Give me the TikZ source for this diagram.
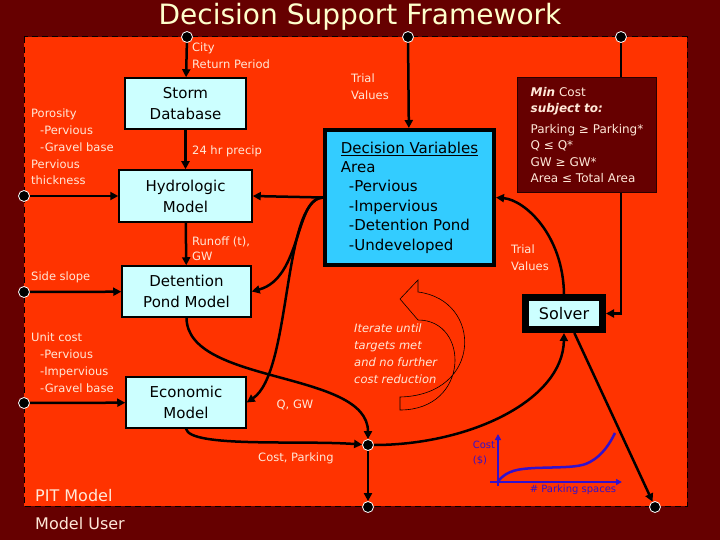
\documentclass[tikz,border=0pt]{standalone}
\usepackage{fontspec}
\setmainfont{DejaVu Sans}
\usetikzlibrary{arrows.meta}
\definecolor{slide}{HTML}{660000}
\definecolor{panel}{HTML}{FF3300}
\definecolor{modelfill}{HTML}{CCFFFF}
\definecolor{varfill}{HTML}{33CCFF}
\definecolor{titletext}{HTML}{FFFFCC}
\definecolor{notetext}{HTML}{FFE8D8}
\definecolor{plotblue}{HTML}{3311CC}

\begin{document}
\begin{tikzpicture}[x=1pt,y=-1pt,
  modelbox/.style={draw=black, line width=1.5pt, fill=modelfill, align=center, font=\fontsize{15}{21}\selectfont},
  port/.style={circle, fill=black, draw=white, line width=0.8pt, inner sep=0pt, minimum size=11pt},
  flow/.style={line width=2.5pt, -{Triangle[length=8pt,width=8pt]}},
  note/.style={text=notetext, align=left, inner sep=0pt, font=\fontsize{11.5}{16.7}\selectfont},
  plotline/.style={plotblue, line width=2.5pt}]
\fill[slide] (0,0) rectangle (720,540);
\draw[line width=1pt, dash pattern=on 6pt off 4pt, fill=panel] (24,37) rectangle (687,506);
\node[text=titletext, font=\fontsize{28}{32}\selectfont] (title) at (360,17) {Decision Support Framework};
\node[port] (cityin) at (187,37) {};
\node[port] (trialin) at (408,37) {};
\node[port] (targetin) at (621,37) {};
\node[port] (soilin) at (24,196) {};
\node[port] (slopein) at (24,292) {};
\node[port] (costin) at (24,403) {};
\node[port] (junction) at (368,445) {};
\node[port] (userout) at (368,507) {};
\node[port] (solverout) at (655,507) {};
\node[modelbox, minimum width=121, minimum height=51] (storm) at (185.5,103.5) {Storm\\Database};
\node[modelbox, minimum width=133, minimum height=52] (hydro) at (185.5,196) {Hydrologic\\Model};
\node[modelbox, minimum width=129, minimum height=51] (detention) at (186.5,291.5) {Detention\\Pond Model};
\node[modelbox, minimum width=120, minimum height=51] (economic) at (186,402.5) {Economic\\Model};
\node[draw=black, line width=4pt, fill=varfill, align=left, anchor=north west, minimum width=169, minimum height=135, font=\fontsize{15}{19.4}\selectfont] (dv) at (323,128) {\underline{Decision Variables}\\Area\\\hspace*{8pt}-Pervious\\\hspace*{8pt}-Impervious\\\hspace*{8pt}-Detention Pond\\\hspace*{8pt}-Undeveloped};
\node[draw=black, line width=7pt, fill=modelfill, minimum width=77, minimum height=32, font=\fontsize{16}{20}\selectfont] (solver) at (564,313.5) {Solver};
\draw[flow] (targetin) |- (solver.east);
\node[draw=black!60!slide, line width=1pt, fill=slide, text=notetext, align=left, anchor=north west, minimum width=139, minimum height=115, font=\fontsize{12}{16.5}\selectfont] (target) at (517,77) {\textbf{\textit{Min}} Cost\\\textbf{\textit{subject to:}}\\[4pt]Parking ≥ Parking*\\Q ≤ Q*\\GW ≥ GW*\\Area ≤ Total Area};
\node[note, anchor=north west] (citynote) at (192,43) {City\\Return Period};
\node[note, anchor=north west] (trialnote) at (351,74) {Trial\\Values};
\node[note, anchor=north west] (soilnote) at (31,109) {Porosity\\\hspace*{9pt}-Pervious\\\hspace*{9pt}-Gravel base\\Pervious\\thickness};
\node[note, anchor=north west] (precipnote) at (192,146) {24 hr precip};
\node[note, anchor=north west, font=\fontsize{11.5}{14.5}\selectfont] (runoffnote) at (192,237) {Runoff (t),\\GW};
\node[note, anchor=north west] (slopenote) at (31,272) {Side slope};
\node[note, anchor=north west] (costnote) at (31,333) {Unit cost\\\hspace*{9pt}-Pervious\\\hspace*{9pt}-Impervious\\\hspace*{9pt}-Gravel base};
\node[note, anchor=north west] (solvernote) at (511,245) {Trial\\Values};
\node[note] (flownote) at (295,405) {Q, GW};
\node[note] (pricenote) at (296,458) {Cost, Parking};
\draw[line width=0.6pt] (418,292) -- (418,280) -- (400,299) -- (418,320) .. controls (470,320) and (470,410) .. (400,410) -- (400,397) .. controls (483,395) and (483,300) .. (418,292) -- cycle;
\node[note, anchor=north west, font=\fontsize{11.5}{16.7}\selectfont\itshape] (iternote) at (354,324) {Iterate until\\targets met\\and no further\\cost reduction};
\draw[flow] (cityin) -- (storm);
\draw[flow] (storm) -- (hydro);
\draw[flow] (hydro) -- (detention);
\draw[flow] (soilin) -- (hydro);
\draw[flow] (slopein) -- (detention);
\draw[flow] (costin) -- (economic);
\draw[flow] (trialin) -- (dv);
\draw[flow] (dv.west) -- (hydro.east);
\draw[flow] (dv.west) .. controls (295,197) and (302,278) .. (detention.east);
\draw[flow] (dv.west) .. controls (282,200) and (292,372) .. (economic.east);
\draw[flow] (detention.south) .. controls (187,385) and (368,370) .. (junction);
\draw[flow] (economic.south) .. controls (190,448) and (300,440) .. (junction);
\draw[flow] (junction) -- (userout);
\draw[flow] (junction) .. controls (470,445) and (563,400) .. (solver.south);
\draw[flow] (solver.north) .. controls (563,235) and (525,200) .. (dv.east);
\draw[flow] (solver.-62) -- (solverout);
\draw[plotline, -{Triangle[length=6pt,width=6pt]}] (490,482) -- (622,482);
\draw[plotline, -{Triangle[length=6pt,width=6pt]}] (498,486) -- (498,434);
\draw[plotline] (498,481) .. controls (508,470) and (518,469) .. (535,468) .. controls (560,467) and (580,468) .. (590,462) .. controls (603,455) and (610,443) .. (615,433);
\node[text=plotblue, align=left, inner sep=0pt, font=\fontsize{10}{15}\selectfont] (costaxis) at (484,453) {Cost\\(\$)};
\node[text=plotblue, inner sep=0pt, font=\fontsize{10}{12}\selectfont] (parkaxis) at (573,490) {\# Parking spaces};
\node[text=notetext, anchor=west, inner sep=0pt, font=\fontsize{16}{20}\selectfont] (pitlabel) at (35,496) {PIT Model};
\node[text=notetext, anchor=west, inner sep=0pt, font=\fontsize{16}{20}\selectfont] (userlabel) at (35,524) {Model User};
\end{tikzpicture}
\end{document}
